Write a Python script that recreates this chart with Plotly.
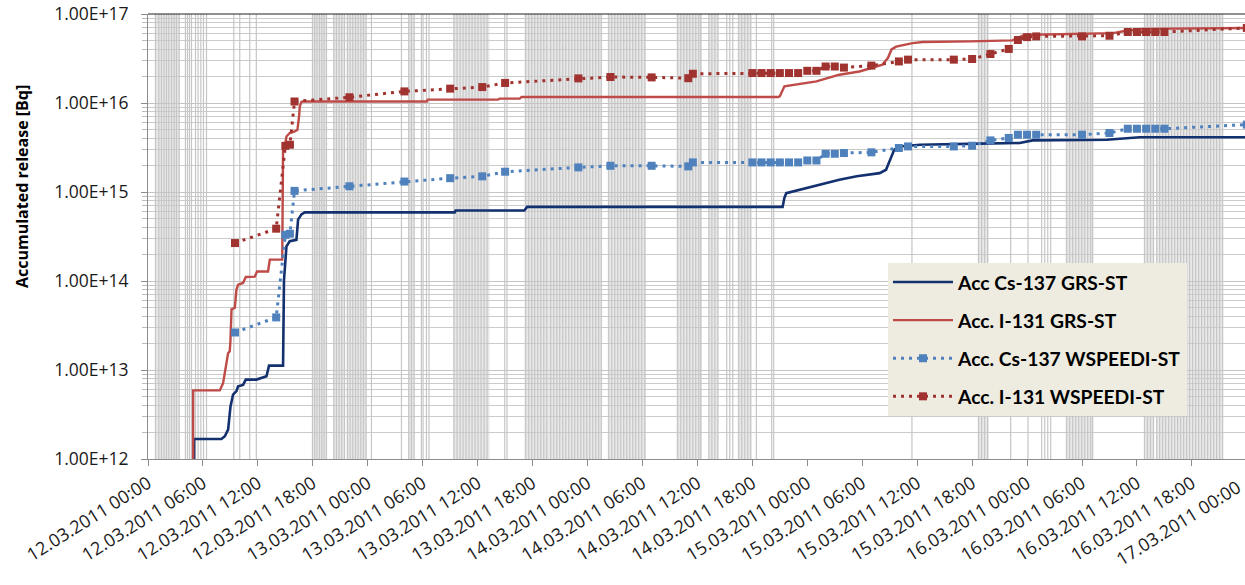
import plotly.graph_objects as go

# Time axis: hours after 12.03.2011 00:00
x_end = 119.8

x_tick_h = [0, 6, 12, 18, 24, 30, 36, 42, 48, 54, 60, 66, 72, 78, 84, 90, 96, 102, 108, 114, 120]
x_tick_text = [
    "12.03.2011 00:00", "12.03.2011 06:00", "12.03.2011 12:00", "12.03.2011 18:00",
    "13.03.2011 00:00", "13.03.2011 06:00", "13.03.2011 12:00", "13.03.2011 18:00",
    "14.03.2011 00:00", "14.03.2011 06:00", "14.03.2011 12:00", "14.03.2011 18:00",
    "15.03.2011 00:00", "15.03.2011 06:00", "15.03.2011 12:00", "15.03.2011 18:00",
    "16.03.2011 00:00", "16.03.2011 06:00", "16.03.2011 12:00", "16.03.2011 18:00",
    "17.03.2011 00:00",
]
y_tick_v = [1e12, 1e13, 1e14, 1e15, 1e16, 1e17]
y_tick_text = ["1.00E+12", "1.00E+13", "1.00E+14", "1.00E+15", "1.00E+16", "1.00E+17"]

# Accumulated Cs-137, GRS source term
cs_grs_h = [5.0, 5.03, 8.02, 8.39, 8.75, 9.01, 9.29, 9.66, 9.84, 10.38,
            10.68, 11.85, 12.94, 13.22, 14.75, 14.85, 15.12, 15.48, 16.21, 16.39,
            16.76, 17.12, 33.5, 33.6, 41.1, 41.4, 69.3, 69.5, 69.7, 71.2,
            73.0, 75.5, 77.4, 79.9, 80.6, 81.0, 81.5, 82.1, 84.3, 90.8,
            95.2, 96.6, 104.7, 108.3, 120.0]
cs_grs_v = [1e11, 1.68e12, 1.68e12, 1.8e12, 2.14e12, 3.9e12, 5.3e12, 5.8e12, 6.55e12, 6.8e12,
            7.8e12, 7.8e12, 8.5e12, 1.12e13, 1.12e13, 1.02e14, 2.45e14, 2.8e14, 2.9e14, 4.9e14,
            5.6e14, 5.9e14, 5.9e14, 6.2e14, 6.2e14, 6.8e14, 6.8e14, 8.6e14, 9.7e14, 1.06e15,
            1.16e15, 1.37e15, 1.5e15, 1.63e15, 1.78e15, 2.3e15, 3.0e15, 3.25e15, 3.4e15, 3.5e15,
            3.55e15, 3.8e15, 3.87e15, 4.12e15, 4.12e15]

# Accumulated I-131, GRS source term
i_grs_h = [4.92, 4.93, 7.84, 8.2, 8.75, 8.93, 9.01, 9.12, 9.48, 9.66,
           9.84, 10.38, 10.68, 11.66, 11.91, 13.11, 13.3, 14.66, 14.75, 14.94,
           15.12, 15.48, 16.03, 16.32, 16.5, 16.58, 16.76, 16.9, 30.44, 30.55,
           38.2, 38.4, 40.6, 40.8, 68.8, 69.0, 69.5, 70.8, 73.0, 75.5,
           77.7, 80.2, 80.8, 81.2, 81.7, 83.5, 84.6, 89.7, 94.4, 95.5,
           96.6, 105.4, 106.5, 108.6, 120.0]
i_grs_v = [1e11, 5.9e12, 5.9e12, 7.1e12, 1.55e13, 1.62e13, 2.2e13, 4.8e13, 5.0e13, 8.0e13,
           9.1e13, 9.5e13, 1.11e14, 1.12e14, 1.28e14, 1.28e14, 1.74e14, 1.74e14, 3.0e15, 3.25e15,
           4.2e15, 4.6e15, 4.8e15, 5.0e15, 7.1e15, 9.2e15, 1.03e16, 1.04e16, 1.04e16, 1.09e16,
           1.09e16, 1.12e16, 1.12e16, 1.17e16, 1.17e16, 1.19e16, 1.54e16, 1.61e16, 1.75e16, 2.08e16,
           2.26e16, 2.69e16, 3.2e16, 4.0e16, 4.3e16, 4.7e16, 4.84e16, 4.92e16, 5.05e16, 5.7e16,
           5.85e16, 6.1e16, 6.4e16, 6.8e16, 6.97e16]

# WSPEEDI source term output times and accumulated values
wsp_h = [9.5, 14.0, 15.0, 15.5, 16.0, 22.0, 28.0, 33.0, 36.5, 39.0,
         47.0, 50.5, 55.0, 59.0, 59.5, 66.0, 67.0, 68.0, 69.0, 70.0,
         71.0, 72.0, 73.0, 74.0, 75.0, 76.0, 79.0, 82.0, 83.0, 88.0,
         90.0, 92.0, 94.0, 95.0, 96.0, 97.0, 102.0, 105.0, 107.0, 108.0,
         109.0, 110.0, 111.0, 120.0]
cs_wsp_v = [2.64e13, 3.9e13, 3.3e14, 3.4e14, 1.03e15, 1.16e15, 1.31e15, 1.43e15, 1.50e15, 1.69e15,
            1.89e15, 1.97e15, 1.97e15, 1.94e15, 2.15e15, 2.15e15, 2.15e15, 2.15e15, 2.15e15, 2.15e15,
            2.15e15, 2.26e15, 2.26e15, 2.69e15, 2.69e15, 2.74e15, 2.79e15, 3.12e15, 3.25e15, 3.25e15,
            3.31e15, 3.8e15, 4.05e15, 4.4e15, 4.4e15, 4.4e15, 4.4e15, 4.6e15, 5.14e15, 5.14e15,
            5.14e15, 5.14e15, 5.14e15, 5.72e15]
i_wsp_v = [2.67e14, 3.87e14, 3.3e15, 3.4e15, 1.04e16, 1.16e16, 1.35e16, 1.45e16, 1.51e16, 1.68e16,
           1.89e16, 1.96e16, 1.94e16, 1.9e16, 2.13e16, 2.17e16, 2.17e16, 2.17e16, 2.17e16, 2.17e16,
           2.17e16, 2.3e16, 2.3e16, 2.57e16, 2.57e16, 2.5e16, 2.63e16, 2.93e16, 3.07e16, 3.07e16,
           3.12e16, 3.55e16, 4.05e16, 5.1e16, 5.5e16, 5.6e16, 5.6e16, 5.7e16, 6.28e16, 6.28e16,
           6.28e16, 6.28e16, 6.28e16, 6.97e16]

# Vertical marker lines (hours) and the shaded spans where they are densest
gray_line_h = [
    0.82, 1.18, 1.47, 1.76, 2.02, 2.27, 2.57, 2.85, 3.11, 3.40,
    4.09, 4.31, 4.53, 4.75,
    5.19, 5.47, 5.77, 6.06, 6.39,
    9.37, 10.02, 11.11, 11.83,
    17.96, 18.21, 18.46, 18.73, 18.98, 19.23, 19.49,
    20.29, 20.58, 20.87, 21.16, 21.46,
    21.78, 22.07, 22.36, 22.66, 22.94, 23.24, 23.53, 23.81,
    24.40,
    27.68, 28.48, 28.77, 29.06, 29.86, 30.04, 30.41, 30.69,
    33.42, 33.75, 34.08, 34.41, 34.73, 35.06, 35.39, 35.72, 36.04, 36.37, 36.70, 37.03,
    38.96, 39.21,
    41.25, 41.58, 41.91, 42.23, 42.56, 42.89, 43.22, 43.54, 43.98, 44.31, 44.64, 44.96, 45.29,
    45.62, 45.95, 46.28, 46.60, 46.93, 47.26, 47.59, 47.91, 48.24, 48.57, 48.90, 49.22, 49.50,
    50.31, 50.64, 50.97, 51.30, 51.62, 51.95, 52.28, 52.61, 52.94, 53.26, 53.59, 53.92, 54.25,
    57.85, 58.18, 58.51, 58.84, 59.16, 59.49, 59.82, 60.15, 60.36,
    61.25, 61.58, 61.91, 62.23,
    63.20, 63.53, 63.86,
    64.51, 64.84, 65.17, 65.50, 65.82,
    66.44,
    68.11, 68.33,
    83.43,
    90.71, 91.04, 91.37, 91.69,
    94.21,
    96.10,
    97.60, 97.93, 98.26, 98.58,
    100.33, 100.65, 100.98, 101.31, 101.64, 101.97, 102.29, 102.62, 102.95, 103.17,
    108.82, 109.15, 109.48, 109.80,
    110.15, 110.48, 110.81, 111.13, 111.46, 111.79, 112.12, 112.44, 112.77, 113.10, 113.43,
    113.75, 114.08, 114.41, 114.74, 115.07, 115.39, 115.72, 116.05, 116.38, 116.70, 117.03, 117.36,
]
band_start = [0.74, 17.9, 20.2, 21.7, 28.4, 33.3, 41.1, 50.2, 57.7, 61.2, 64.4, 90.6, 100.2, 108.8, 110.1]
band_end = [3.5, 19.5, 21.5, 23.9, 29.1, 37.3, 49.6, 54.4, 60.5, 62.3, 65.9, 91.8, 103.2, 109.9, 117.4]

TICK_FONT = "Open Sans"
LEGEND_FONT = "Lato"
NAVY = "#13306f"
RED = "#be4b48"
BLUE = "#4f81bd"
DARK_RED = "#a0332f"
LABEL_ANGLE = -32

fig = go.Figure()

for s, e in zip(band_start, band_end):
    fig.add_shape(type="rect", xref="x", yref="paper", x0=s, x1=e, y0=0, y1=1,
                  fillcolor="#e8e8e8", line_width=0, layer="below")

vx, vy = [], []
for h in gray_line_h:
    vx += [h, h, None]
    vy += [1e12, 1e17, None]
fig.add_trace(go.Scatter(x=vx, y=vy, mode="lines", line=dict(color="#c6c6c6", width=1.2),
                         hoverinfo="skip", showlegend=False))

fig.add_trace(go.Scatter(x=cs_grs_h, y=cs_grs_v, mode="lines", name="Acc Cs-137 GRS-ST",
                         line=dict(color=NAVY, width=2.6), legendgroup="g1"))
fig.add_trace(go.Scatter(x=i_grs_h, y=i_grs_v, mode="lines", name="Acc. I-131 GRS-ST",
                         line=dict(color=RED, width=2.4), legendgroup="g2"))
fig.add_trace(go.Scatter(x=wsp_h, y=cs_wsp_v, mode="lines+markers", name="Acc. Cs-137 WSPEEDI-ST",
                         line=dict(color=BLUE, width=3, dash="3px,5px"),
                         marker=dict(symbol="square", size=8, color=BLUE), legendgroup="g3"))
fig.add_trace(go.Scatter(x=wsp_h, y=i_wsp_v, mode="lines+markers", name="Acc. I-131 WSPEEDI-ST",
                         line=dict(color=DARK_RED, width=3, dash="3px,5px"),
                         marker=dict(symbol="square", size=8, color=DARK_RED), legendgroup="g4"))

# plot frame: dark top edge
fig.add_shape(type="line", xref="paper", yref="paper", x0=0, x1=1, y0=1, y1=1,
              line=dict(color="#222222", width=1.2))

fig.update_layout(
    width=1245, height=585,
    margin=dict(l=148, r=0, t=14, b=126),
    paper_bgcolor="white", plot_bgcolor="white",
    font=dict(family=TICK_FONT, color="#000000"),
    xaxis=dict(range=[0, x_end], tickvals=x_tick_h, ticktext=x_tick_text, tickangle=LABEL_ANGLE,
               ticks="outside", ticklen=6, tickcolor="#8c8c8c", showline=True,
               linecolor="#8c8c8c", linewidth=1, showgrid=False, zeroline=False,
               tickfont=dict(family=TICK_FONT, size=18, color="#1a1a1a"), automargin=False),
    yaxis=dict(type="log", range=[12, 17], tickvals=y_tick_v, ticktext=y_tick_text,
               ticks="outside", ticklen=6, tickcolor="#8c8c8c", showline=True,
               linecolor="#8c8c8c", linewidth=1, showgrid=True, gridcolor="#c4c4c4",
               gridwidth=1.3, zeroline=False,
               minor=dict(dtick="D1", showgrid=True, gridcolor="#cbcbcb", gridwidth=1.3,
                          ticks="outside", ticklen=5, tickcolor="#bdbdbd"),
               tickfont=dict(family=TICK_FONT, size=17.5, color="#1a1a1a"), automargin=False,
               ticklabelstandoff=9),
    legend=dict(x=(888 - 148) / 1097, y=1 - (263 - 14) / 445, xanchor="left", yanchor="top",
                bgcolor="#eeece1",
                font=dict(family=LEGEND_FONT, size=19.3, weight="bold", color="#000000"),
                traceorder="grouped", tracegroupgap=10, itemwidth=60),
    showlegend=True,
)

fig.add_annotation(text="Accumulated release [Bq]", xref="paper", yref="paper",
                   x=(22 - 148) / 1097, y=(459 - 187) / 445, xanchor="center", yanchor="middle",
                   textangle=-90, showarrow=False,
                   font=dict(family=TICK_FONT, size=16, weight="bold", color="#000000"))

# last time label sits at the right edge of the axis
fig.add_annotation(text=x_tick_text[-1], xref="paper", yref="paper",
                   x=x_tick_h[-1] / x_end, y=-0.03, xanchor="right", yanchor="top",
                   textangle=LABEL_ANGLE, showarrow=False,
                   font=dict(family=TICK_FONT, size=18, color="#1a1a1a"))

fig.write_html("out.html")
